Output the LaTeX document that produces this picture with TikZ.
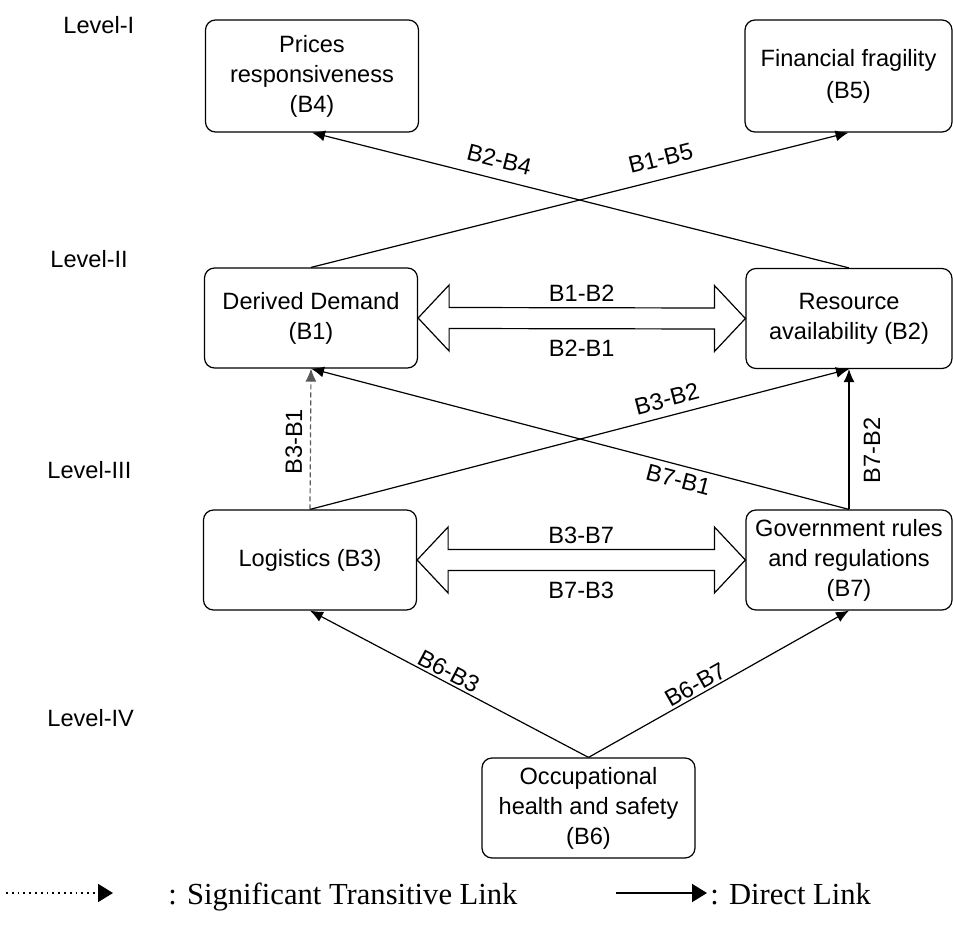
\documentclass[tikz,border=0pt]{standalone}
\usepackage{fontspec}
\setmainfont{Liberation Sans}
\newfontfamily\legendfont{Liberation Serif}
\usetikzlibrary{arrows.meta,calc}

\tikzset{
  factor/.style={draw, rounded corners=5pt, line width=0.6pt, align=center,
    minimum width=106.5pt, minimum height=50pt, inner sep=0pt,
    font=\fontsize{11.8}{15}\selectfont},
  topfactor/.style={factor, minimum height=56pt},
  sidefactor/.style={factor, minimum width=103pt},
  link/.style={-{Latex[length=6.5pt,width=5.5pt]}, line width=0.6pt},
  translink/.style={link, draw=black!65, dash pattern=on 2.5pt off 1.5pt},
  keylink/.style={-{Triangle[length=7.5pt,width=9pt]}, line width=0.9pt},
  lbl/.style={font=\fontsize{11.8}{14}\selectfont, inner sep=1pt},
  level/.style={anchor=west, inner sep=0pt, font=\fontsize{11.8}{14}\selectfont},
  legendtext/.style={anchor=base west, inner sep=0pt, font=\legendfont\fontsize{15.3}{18}\selectfont},
}

% hollow two-headed block arrow between two nodes
\newcommand{\hollowlink}[4]{%
  \draw[line width=0.6pt, line join=miter]
    (#1.east) -- ($(#1.east)+(31,-33)$) -- ($(#1.east)+(31,-10.5)$)
    -- ($(#2.west)+(-31,-10.5)$) -- ($(#2.west)+(-31,-33)$) -- (#2.west)
    -- ($(#2.west)+(-31,33)$) -- ($(#2.west)+(-31,10.5)$)
    -- ($(#1.east)+(31,10.5)$) -- ($(#1.east)+(31,33)$) -- cycle;
  \path (#1.east) -- (#2.west)
    node[lbl, midway, yshift=12.5pt] {#3}
    node[lbl, midway, yshift=-15pt] {#4};
}

\begin{document}
\begin{tikzpicture}[x=0.5pt, y=-0.5pt]
  \useasboundingbox (0,0) rectangle (953,925);

  % levels
  \node[level] (lev1) at (63,25) {Level-I};
  \node[level] (lev2) at (50,259) {Level-II};
  \node[level] (lev3) at (47,470) {Level-III};
  \node[level] (lev4) at (47,718) {Level-IV};

  % factors
  \node[topfactor] (b4) at (312,76) {Prices\\responsiveness\\(B4)};
  \node[topfactor, minimum width=103.5pt] (b5) at (848.5,76) {\raisebox{-1.5pt}{\shortstack{Financial fragility\\[2pt](B5)}}};
  \node[factor] (b1) at (311,318) {Derived Demand\\(B1)};
  \node[sidefactor] (b2) at (849,318.5) {Resource\\availability (B2)};
  \node[factor] (b3) at (310,560) {Logistics (B3)};
  \node[sidefactor] (b7) at (849,560) {Government rules\\and regulations\\(B7)};
  \node[factor] (b6) at (588.5,808) {Occupational\\health and safety\\(B6)};

  % links
  \draw[link] (b2.north) -- (b4.south) node[lbl, sloped, above=4.5pt, pos=0.66] {B2-B4};
  \draw[link] (b1.north) -- (b5.south) node[lbl, sloped, above=5pt, pos=0.66] {B1-B5};
  \draw[link] (b3.north) -- (b2.south) node[lbl, sloped, above=3pt, pos=0.67] {B3-B2};
  \draw[link] (b7.north) -- (b1.south) node[lbl, sloped, below=2pt, pos=0.31] {B7-B1};
  \draw[link] (b7.north) -- (b2.south) node[lbl, sloped, below=6pt, pos=0.42] {B7-B2};
  \draw[translink] (b3.north) -- (b1.south) node[lbl, sloped, above=2.8pt, pos=0.48] {B3-B1};
  \draw[link] (b6.north) -- (b3.south) node[lbl, sloped, above=0pt, pos=0.52] {B6-B3};
  \draw[link] (b6.north) -- (b7.south) node[lbl, sloped, above=0pt, pos=0.43] {B6-B7};

  \hollowlink{b1}{b2}{B1-B2}{B2-B1}
  \hollowlink{b3}{b7}{B3-B7}{B7-B3}

  % legend
  \coordinate (dotA) at (6,893);
  \coordinate (dotB) at (113,893);
  \coordinate (solA) at (616,893);
  \coordinate (solB) at (707,893);
  \draw[keylink, dotted] (dotA) -- (dotB);
  \node[legendtext] (leg1) at (168,904) {: Significant Transitive Link};
  \draw[keylink] (solA) -- (solB);
  \node[legendtext] (leg2) at (710,904) {: Direct Link};
\end{tikzpicture}
\end{document}
